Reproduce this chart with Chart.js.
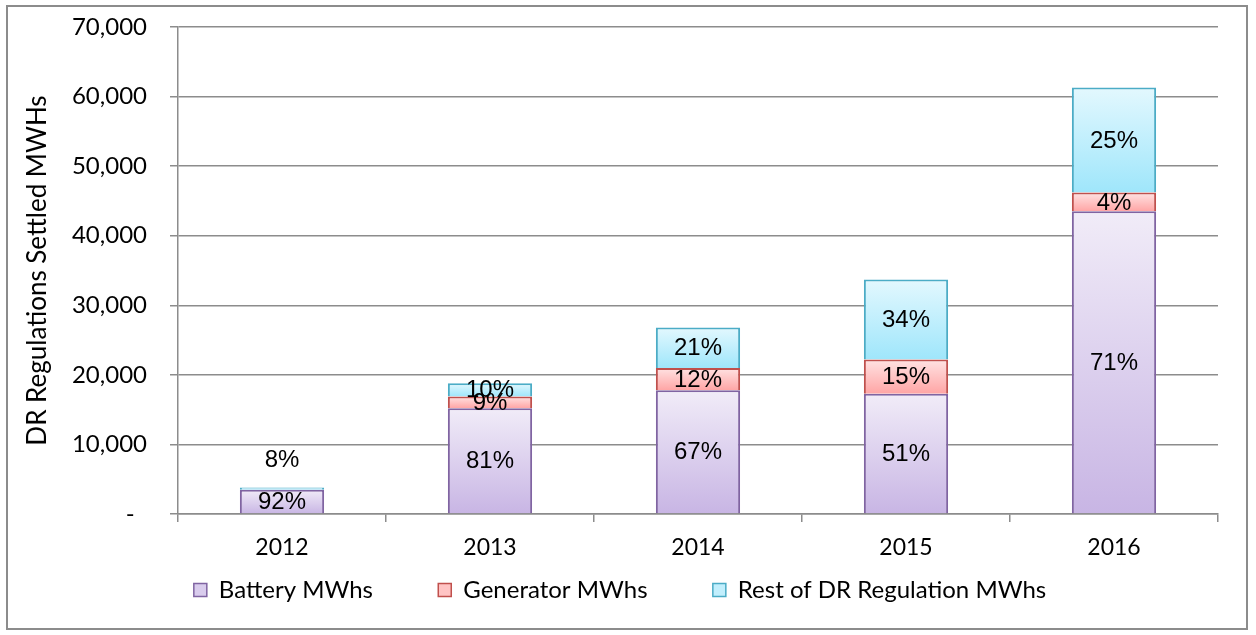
<!DOCTYPE html>
<html>
<head>
<meta charset="utf-8">
<script src="https://cdn.jsdelivr.net/npm/chart.js@4.4.0/dist/chart.umd.min.js"></script>
<style>
  html, body { margin: 0; padding: 0; background: #fff; }
  #frame { position: absolute; left: 6px; top: 5px; width: 1242px; height: 625px; border: 2px solid #8c8c8c; box-sizing: border-box; }
  #wrap { position: absolute; left: 0; top: 0; width: 1256px; height: 635px; }
</style>
</head>
<body>
<div id="frame"></div>
<div id="wrap"><canvas id="chart"></canvas></div>
<script>
var years = ['2012', '2013', '2014', '2015', '2016'];
var batteryMWhs = [3500, 15200, 17800, 17300, 43500];
var generatorMWhs = [0, 1700, 3200, 4900, 2700];
var restMWhs = [300, 1900, 5800, 11500, 15100];
var batteryPct = ['92%', '81%', '67%', '51%', '71%'];
var generatorPct = ['', '9%', '12%', '15%', '4%'];
var restPct = ['8%', '10%', '21%', '34%', '25%'];
var yTicks = [0, 10000, 20000, 30000, 40000, 50000, 60000, 70000];

var tickFont = "Lato, 'Open Sans', sans-serif";

// vertical gradient per segment, light at top, darker at bottom
function segGradient(light, dark) {
    return function (ctx) {
        var chart = ctx.chart;
        var y = chart.scales.y;
        if (!y || !chart.chartArea || ctx.dataIndex === undefined) return dark;
        var all = chart.data.datasets;
        var bottom = 0;
        for (var i = 0; i < ctx.datasetIndex; i++) bottom += all[i].data[ctx.dataIndex];
        var top = bottom + all[ctx.datasetIndex].data[ctx.dataIndex];
        var y0 = y.getPixelForValue(top), y1 = y.getPixelForValue(bottom);
        if (!isFinite(y0) || !isFinite(y1) || y0 === y1) return dark;
        var g = chart.ctx.createLinearGradient(0, y0, 0, y1);
        g.addColorStop(0, light);
        g.addColorStop(1, dark);
        return g;
    };
}

var pctLabels = {
    id: 'pctLabels',
    afterDatasetsDraw: function (chart) {
        var c = chart.ctx;
        var lists = [batteryPct, generatorPct, restPct];
        c.save();
        c.font = "24px 'Liberation Sans Narrow', 'Arial Narrow', sans-serif";
        c.fillStyle = '#000';
        c.textAlign = 'center';
        c.textBaseline = 'middle';
        chart.data.datasets.forEach(function (ds, di) {
            var meta = chart.getDatasetMeta(di);
            meta.data.forEach(function (bar, i) {
                var txt = lists[di][i];
                if (!txt) return;
                var h = Math.abs(bar.base - bar.y);
                // tiny segments get their label above the bar
                var yy = h < 8 ? bar.y - 28 : (bar.y + bar.base) / 2;
                c.fillText(txt, bar.x, yy + 1);
            });
        });
        c.restore();
    }
};

new Chart(document.getElementById('chart'), {
    type: 'bar',
    data: {
        labels: years,
        datasets: [
            {
                label: 'Battery MWhs',
                data: batteryMWhs,
                backgroundColor: segGradient('#f1ecf8', '#c8b5e4'),
                borderColor: '#8064a2',
                borderWidth: 2,
                legendColor: '#d9cced'
            },
            {
                label: 'Generator MWhs',
                data: generatorMWhs,
                backgroundColor: segGradient('#ffe3e3', '#ffa5a5'),
                borderColor: '#c0504d',
                borderWidth: 2,
                legendColor: '#ffc4c4'
            },
            {
                label: 'Rest of DR Regulation MWhs',
                data: restMWhs,
                backgroundColor: segGradient('#e3f8fe', '#9fe6fb'),
                borderColor: '#4bacc6',
                borderWidth: 2,
                legendColor: '#c2effd'
            }
        ]
    },
    options: {
        responsive: true,
        maintainAspectRatio: false,
        animation: false,
        layout: { padding: { top: 27, left: 22, right: 38, bottom: 23 } },
        datasets: { bar: { categoryPercentage: 1, barPercentage: 0.405 } },
        scales: {
            x: {
                stacked: true,
                grid: { offset: true, drawOnChartArea: false, drawTicks: true, tickLength: 8, color: '#8c8c8c', lineWidth: 1.5 },
                border: { color: '#8c8c8c', width: 1.5 },
                ticks: { color: '#000', font: { family: tickFont, size: 23 }, padding: 12 },
                afterFit: function (s) { s.height = 54; s.paddingLeft = 0; s.paddingRight = 0; }
            },
            y: {
                stacked: true,
                min: 0,
                max: 70000,
                afterBuildTicks: function (s) { s.ticks = yTicks.map(function (v) { return { value: v }; }); },
                grid: { color: '#8c8c8c', lineWidth: 1.5, tickLength: 8 },
                border: { color: '#8c8c8c', width: 1.5 },
                ticks: {
                    color: '#000',
                    font: { family: tickFont, size: 24 },
                    padding: 23,
                    callback: function (v) { return v === 0 ? '-  ' : v.toLocaleString('en-US'); }
                },
                title: {
                    display: true,
                    text: 'DR Regulations Settled MWHs',
                    color: '#000',
                    font: { family: tickFont, size: 26 },
                    padding: 0
                },
                afterFit: function (s) { s.width = 156; s.paddingTop = 0; s.paddingBottom = 0; }
            }
        },
        plugins: {
            legend: {
                position: 'bottom',
                labels: {
                    color: '#000',
                    font: { family: tickFont, size: 24 },
                    boxWidth: 13,
                    boxHeight: 13,
                    padding: 10,
                    generateLabels: function (chart) {
                        return chart.data.datasets.map(function (ds, i) {
                            // trailing spaces keep the wide gaps between legend items
                            var gap = i < chart.data.datasets.length - 1 ? '         ' : '';
                            return {
                                text: ds.label + gap,
                                fillStyle: ds.legendColor,
                                strokeStyle: ds.borderColor,
                                lineWidth: 1.5,
                                fontColor: '#000',
                                datasetIndex: i
                            };
                        });
                    }
                }
            },
            tooltip: { enabled: false }
        }
    },
    plugins: [pctLabels]
});
</script>
</body>
</html>
